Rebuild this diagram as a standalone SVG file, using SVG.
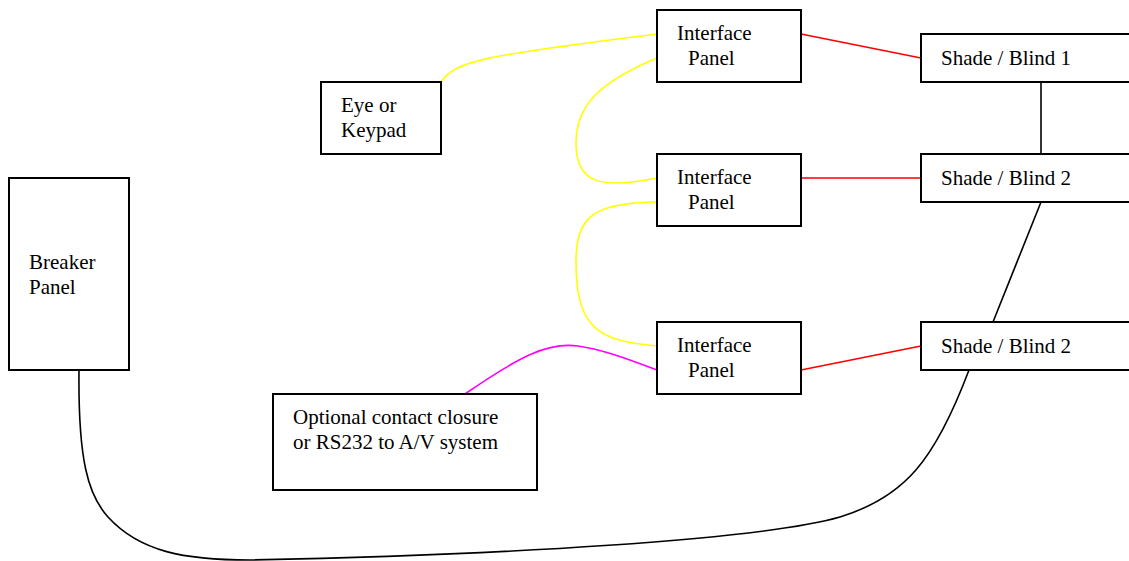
<svg xmlns="http://www.w3.org/2000/svg" width="1129" height="561" viewBox="0 0 1129 561">
<style>
.box{fill:#fff;stroke:#000;stroke-width:2}
.t{font-family:'Liberation Serif','DejaVu Serif',serif;font-size:21px;fill:#000}
.c{fill:none;stroke-width:1.6}
.y{stroke:#ffff00}
.r{stroke:#ff0000}
.m{stroke:#ff00ff}
.k{stroke:#000}
</style>
<rect width="1129" height="561" fill="#fff"/>
<g id="connectors">
<path class="c y" d="M441,82 C455,60 490,55 657,34"/>
<path class="c y" d="M657,58 C600,82 576,105 576,143 C576,182 598,190 657,178"/>
<path class="c y" d="M657,202 C595,203 576,215 576,262 C576,330 600,341 657,346"/>
<path class="c m" d="M465,394 C520,356 548,342 578,346 C605,350 630,360 657,370"/>
<path class="c r" d="M801,34 L921,58"/>
<path class="c r" d="M801,178 L921,178"/>
<path class="c r" d="M801,370 L921,346"/>
<path class="c k" d="M1041,82 L1041,154"/>
<path class="c k" d="M1041,202 L993,322"/>
<path class="c k" d="M79,370 C78,460 88,495 108,517 C140,552 185,560 250,560 C500,555 760,540 840,517 C905,497 935,460 969,370"/>
</g>
<g id="ip1"><rect class="box" x="657" y="10" width="144" height="72"/><text class="t" x="677" y="40">Interface</text><text class="t" x="688" y="65">Panel</text></g>
<g id="ip2"><rect class="box" x="657" y="154" width="144" height="72"/><text class="t" x="677" y="184">Interface</text><text class="t" x="688" y="209">Panel</text></g>
<g id="ip3"><rect class="box" x="657" y="322" width="144" height="72"/><text class="t" x="677" y="352">Interface</text><text class="t" x="688" y="377">Panel</text></g>
<g id="shade1"><rect class="box" x="921" y="34" width="220" height="48"/><text class="t" x="941" y="65">Shade / Blind 1</text></g>
<g id="shade2"><rect class="box" x="921" y="154" width="220" height="48"/><text class="t" x="941" y="185">Shade / Blind 2</text></g>
<g id="shade3"><rect class="box" x="921" y="322" width="220" height="48"/><text class="t" x="941" y="353">Shade / Blind 2</text></g>
<g id="eye"><rect class="box" x="321" y="82" width="120" height="72"/><text class="t" x="341" y="112">Eye or</text><text class="t" x="341" y="137">Keypad</text></g>
<g id="breaker"><rect class="box" x="9" y="178" width="120" height="192"/><text class="t" x="29" y="269">Breaker</text><text class="t" x="29" y="294">Panel</text></g>
<g id="optional"><rect class="box" x="273" y="394" width="264" height="96"/><text class="t" x="293" y="424">Optional contact closure</text><text class="t" x="293" y="449">or RS232 to A/V system</text></g>
</svg>
